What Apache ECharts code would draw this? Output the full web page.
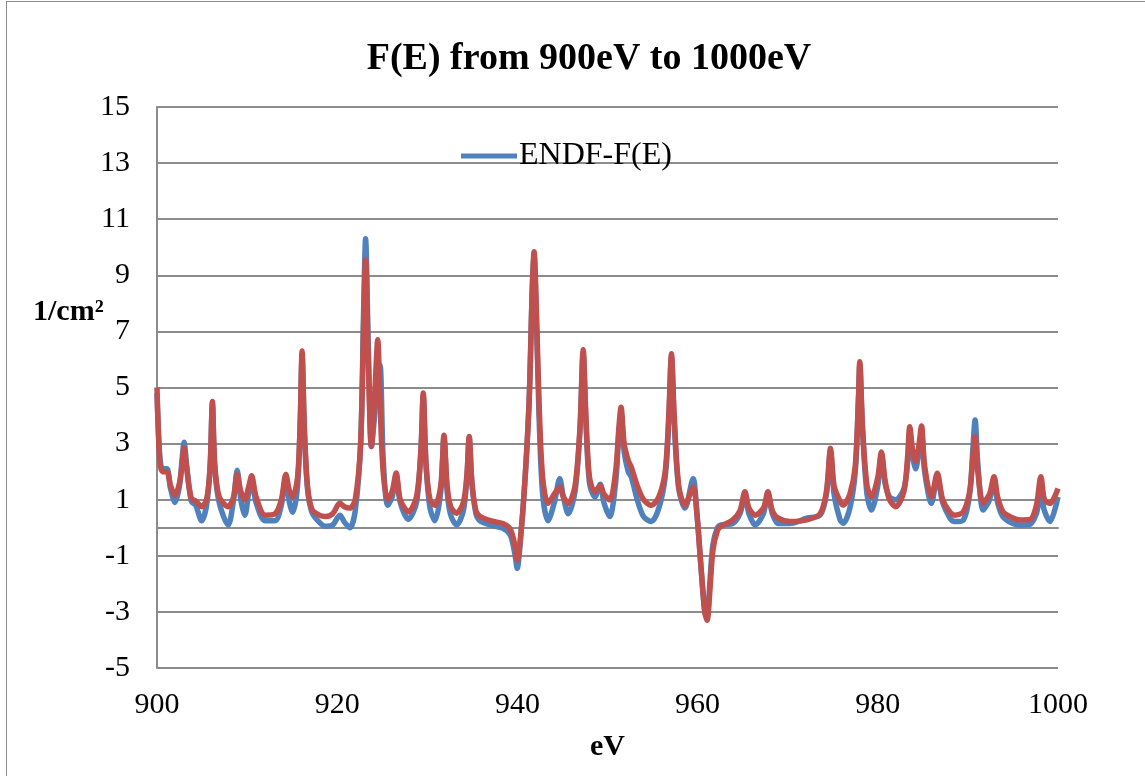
<!DOCTYPE html>
<html>
<head>
<meta charset="utf-8">
<script src="https://cdn.jsdelivr.net/npm/echarts@6/dist/echarts.min.js"></script>
<style>
	html, body {
		margin: 0;
		padding: 0;
		background: #ffffff;
	}
	.frame {
		position: absolute;
		left: 6px;
		top: 1px;
		width: 1200px;
		height: 800px;
		border: 1px solid #8c8c8c;
	}
	#chart {
		position: absolute;
		left: 0;
		top: 0;
		width: 1145px;
		height: 776px;
	}
</style>
</head>
<body>
<div class="frame"></div>
<div id="chart"></div>
<script>
	// energies (eV), shared by both curves
	var energy = [
		900.0, 900.3, 900.6, 901.1, 901.5, 902.0, 902.5, 902.8, 903.0, 903.3,
		903.8, 904.3, 904.95, 905.5, 905.9, 906.15, 906.4, 906.9, 907.9, 908.5,
		908.9, 909.3, 909.75, 910.2, 910.5, 911.0, 912.0, 913.1, 913.8, 914.3,
		914.7, 915.05, 915.6, 915.9, 916.1, 916.35, 916.7, 917.2, 918.0, 918.7,
		919.5, 920.3, 920.8, 921.4, 922.0, 922.6, 922.95, 923.15, 923.45, 923.8,
		924.2, 924.5, 924.75, 925.1, 925.6, 926.1, 926.55, 927.0, 927.9, 928.8,
		929.3, 929.55, 929.85, 930.3, 930.85, 931.5, 931.85, 932.2, 932.6, 933.25,
		934.0, 934.4, 934.65, 934.95, 935.4, 935.85, 937.0, 938.4, 939.2, 939.7,
		939.98, 940.3, 940.8, 941.3, 941.65, 941.85, 942.1, 942.4, 942.8, 943.4,
		944.1, 944.7, 945.1, 945.65, 946.4, 946.95, 947.3, 947.6, 948.0, 948.6,
		949.2, 949.6, 950.25, 950.9, 951.25, 951.5, 951.85, 952.3, 952.65, 953.3,
		954.0, 954.85, 955.7, 956.4, 956.8, 957.1, 957.4, 957.9, 958.6, 959.5,
		959.9, 960.4, 960.8, 961.05, 961.35, 961.7, 962.2, 962.6, 963.9, 964.7,
		965.25, 965.7, 966.4, 967.3, 967.8, 968.3, 968.95, 970.25, 972.1, 973.6,
		974.3, 974.75, 975.15, 975.8, 976.15, 976.9, 977.5, 977.85, 978.0, 978.3,
		978.8, 979.3, 980.0, 980.4, 980.8, 981.3, 982.0, 982.9, 983.3, 983.55,
		983.85, 984.2, 984.55, 984.85, 985.2, 985.95, 986.6, 987.2, 988.0, 988.55,
		989.5, 990.2, 990.55, 990.8, 991.1, 991.7, 992.4, 992.9, 993.3, 993.9,
		995.0, 995.8, 996.9, 997.6, 998.1, 998.5, 999.1, 1000.0
	];

	// ENDF-F(E), blue
	var endfF = [
		4.8, 2.6, 2.1, 2.1, 1.4, 0.9, 1.5, 2.5, 3.05, 2.2,
		0.95, 0.8, 0.25, 0.8, 2.2, 4.4, 2.2, 0.9, 0.1, 1.0,
		2.05, 1.0, 0.45, 1.3, 1.65, 0.9, 0.25, 0.25, 0.8, 1.8,
		0.9, 0.55, 1.5, 3.8, 6.1, 3.5, 1.4, 0.55, 0.2, 0.05,
		0.1, 0.45, 0.2, 0.0, 0.6, 3.0, 8.0, 10.3, 6.5, 2.9,
		4.2, 5.6, 5.8, 2.5, 0.8, 1.1, 1.8, 0.9, 0.3, 0.9,
		2.8, 4.7, 2.3, 0.7, 0.25, 1.3, 3.2, 1.3, 0.45, 0.1,
		0.6, 1.8, 3.2, 1.6, 0.5, 0.25, 0.1, -0.02, -0.25, -0.9,
		-1.45, -0.6, 1.5, 4.5, 8.5, 9.7, 7.5, 4.0, 1.2, 0.25,
		0.9, 1.75, 1.1, 0.5, 1.3, 3.5, 6.2, 3.8, 1.6, 1.1,
		1.55, 0.9, 0.4, 1.6, 3.3, 4.1, 2.7, 2.0, 1.8, 1.0,
		0.4, 0.22, 0.7, 1.8, 3.8, 6.1, 3.8, 1.4, 0.7, 1.75,
		0.6, -1.5, -3.0, -3.2, -2.0, -0.6, 0.0, 0.1, 0.15, 0.5,
		1.15, 0.5, 0.1, 0.5, 1.2, 0.5, 0.15, 0.15, 0.34, 0.45,
		1.2, 2.7, 1.2, 0.3, 0.16, 0.7, 2.0, 4.5, 5.8, 3.5,
		1.2, 0.63, 1.5, 2.6, 1.6, 1.1, 1.0, 1.4, 2.3, 3.4,
		2.6, 2.1, 2.7, 3.4, 2.0, 0.87, 1.8, 0.9, 0.35, 0.22,
		0.28, 1.2, 2.8, 3.84, 2.3, 0.63, 1.0, 1.7, 0.9, 0.39,
		0.15, 0.1, 0.12, 0.5, 1.17, 0.6, 0.22, 1.1
	];

	// second curve, red (not named in the legend)
	var fitF = [
		5.0, 2.4, 2.0, 2.0, 1.5, 1.15, 1.6, 2.3, 2.85, 2.1,
		1.05, 0.95, 0.75, 1.0, 2.2, 4.5, 2.3, 1.1, 0.75, 1.1,
		1.9, 1.3, 1.0, 1.5, 1.85, 1.1, 0.45, 0.5, 1.0, 1.9,
		1.3, 1.1, 1.8, 3.8, 6.3, 3.6, 1.5, 0.65, 0.45, 0.4,
		0.5, 0.88, 0.75, 0.7, 1.0, 3.0, 7.5, 9.55, 6.0, 2.9,
		5.0, 6.7, 4.5, 2.0, 1.0, 1.3, 1.95, 1.0, 0.57, 1.1,
		2.8, 4.8, 2.3, 1.0, 0.8, 1.5, 3.3, 1.5, 0.75, 0.52,
		0.9, 1.9, 3.25, 1.6, 0.6, 0.4, 0.25, 0.15, -0.05, -0.6,
		-1.15, -0.5, 1.5, 4.5, 8.5, 9.84, 7.8, 4.5, 1.8, 0.87,
		1.2, 1.45, 1.1, 0.87, 1.5, 3.6, 6.35, 4.0, 1.8, 1.28,
		1.5, 1.2, 0.99, 2.0, 3.5, 4.3, 3.0, 2.4, 2.15, 1.5,
		1.0, 0.8, 1.1, 2.0, 4.0, 6.2, 4.0, 1.5, 0.8, 1.45,
		0.6, -1.5, -3.0, -3.3, -2.3, -0.8, -0.1, 0.05, 0.28, 0.6,
		1.28, 0.7, 0.45, 0.7, 1.28, 0.6, 0.34, 0.22, 0.28, 0.5,
		1.3, 2.83, 1.5, 0.95, 0.81, 1.2, 2.2, 4.6, 5.92, 3.6,
		1.5, 1.1, 1.8, 2.7, 1.7, 1.0, 0.75, 1.3, 2.5, 3.6,
		2.8, 2.35, 2.9, 3.63, 2.2, 1.1, 1.94, 1.0, 0.55, 0.45,
		0.57, 1.3, 2.5, 3.25, 2.0, 0.88, 1.2, 1.82, 1.1, 0.57,
		0.35, 0.28, 0.3, 0.8, 1.82, 1.0, 0.87, 1.4
	];

	var xTicks = { min: 900, max: 1000, step: 20 };
	var yTicks = { min: -5, max: 15, step: 2 };

	var serif = '"Liberation Serif", "Times New Roman", serif';
	var gridGray = '#8c8c8c';

	function pairs(xs, ys) {
		return xs.map(function(x, i) { return [x, ys[i]]; });
	}

	var chart = echarts.init(document.getElementById('chart'), null, { renderer: 'canvas' });

	var option = {
		animation: false,
		title: {
			text: 'F(E) from 900eV to 1000eV',
			left: 584,
			textAlign: 'center',
			top: 35,
			textStyle: {
				fontFamily: serif,
				fontSize: 38,
				fontWeight: 'bold',
				color: '#000'
			}
		},
		legend: {
			data: ['ENDF-F(E)'],
			left: 461,
			top: 140,
			icon: 'rect',
			itemWidth: 56,
			itemHeight: 5,
			itemGap: 10,
			padding: 0,
			textStyle: {
				fontFamily: serif,
				fontSize: 32,
				color: '#000',
				padding: [0, 0, 0, -3]
			}
		},
		graphic: [{
			type: 'text',
			left: 33,
			top: 297,
			style: {
				text: '1/cm\u00b2',
				font: 'bold 30px ' + serif,
				fill: '#000'
			}
		}],
		grid: {
			left: 157,
			right: 87,
			top: 107,
			bottom: 108
		},
		xAxis: [{
			type: 'value',
			min: xTicks.min,
			max: xTicks.max,
			interval: xTicks.step,
			name: 'eV',
			nameLocation: 'middle',
			nameGap: 64,
			nameTextStyle: {
				fontFamily: serif,
				fontSize: 30,
				fontWeight: 'bold',
				color: '#000'
			},
			axisLine: { show: false, onZero: false },
			axisTick: { show: false },
			splitLine: { show: false },
			axisLabel: {
				margin: 22,
				fontFamily: serif,
				fontSize: 30,
				color: '#000',
				formatter: function(v) { return String(v); }
			}
		}, {
			// horizontal axis line crossing at zero
			type: 'value',
			min: xTicks.min,
			max: xTicks.max,
			interval: xTicks.step,
			position: 'bottom',
			axisLine: { show: true, onZero: true, lineStyle: { color: gridGray, width: 2 } },
			axisTick: { show: false },
			axisLabel: { show: false },
			splitLine: { show: false }
		}],
		yAxis: {
			type: 'value',
			min: yTicks.min,
			max: yTicks.max,
			interval: yTicks.step,
			axisLine: { show: true, onZero: false, lineStyle: { color: gridGray, width: 2 } },
			axisTick: { show: false },
			splitLine: { show: true, lineStyle: { color: gridGray, width: 2 } },
			axisLabel: {
				margin: 27,
				fontFamily: serif,
				fontSize: 30,
				color: '#000'
			}
		},
		series: [{
			name: 'ENDF-F(E)',
			type: 'line',
			data: pairs(energy, endfF),
			showSymbol: false,
			smooth: 0.3,
			lineStyle: { color: '#4f81bd', width: 5.5 },
			itemStyle: { color: '#4f81bd' },
			z: 3
		}, {
			name: 'Fit-F(E)',
			type: 'line',
			data: pairs(energy, fitF),
			showSymbol: false,
			smooth: 0.3,
			lineStyle: { color: '#c0504d', width: 5.5 },
			itemStyle: { color: '#c0504d' },
			z: 4
		}]
	};

	chart.setOption(option);
</script>
</body>
</html>
